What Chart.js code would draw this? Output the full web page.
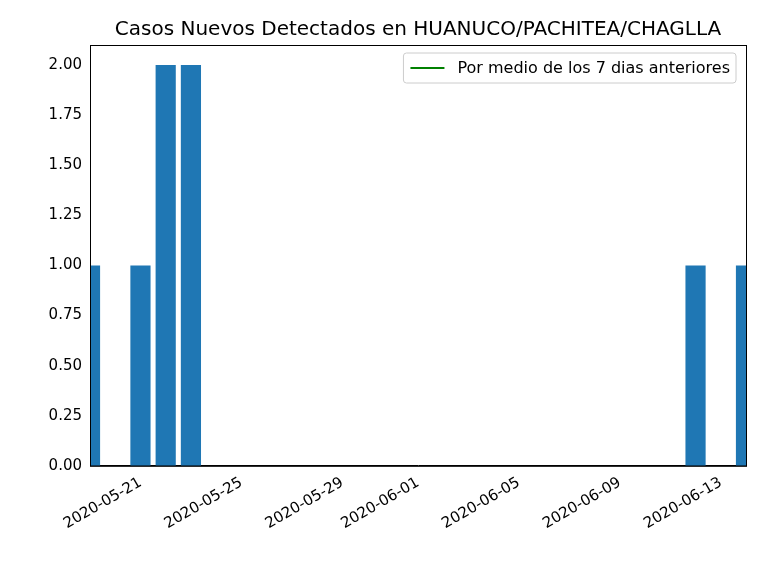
<!DOCTYPE html>
<html><head>
<script src="https://cdn.jsdelivr.net/npm/chart.js@4"></script>
<style>body{margin:0;background:#fff}#wrap{width:768px;height:576px}</style>
</head><body><div id="wrap"><canvas id="c"></canvas></div>
<script>
Chart.defaults.font.family = "'DejaVu Sans', sans-serif";
Chart.defaults.color = '#000';

const days = [];
for (let d = new Date(Date.UTC(2020, 4, 19)); d <= new Date(Date.UTC(2020, 5, 14)); d.setUTCDate(d.getUTCDate() + 1)) {
  days.push(d.toISOString().slice(0, 10));
}
const caseDates = ['2020-05-19', '2020-05-21', '2020-05-22', '2020-05-23', '2020-06-12', '2020-06-14'];
const caseValues = [1, 1, 2, 2, 1, 1];
const tickLabels = ['2020-05-21', '2020-05-25', '2020-05-29', '2020-06-01', '2020-06-05', '2020-06-09', '2020-06-13'];
const legendText = 'Por medio de los 7 dias anteriores';
const titleText = 'Casos Nuevos Detectados en HUANUCO/PACHITEA/CHAGLLA';

const barData = days.map(d => { const i = caseDates.indexOf(d); return i >= 0 ? caseValues[i] : 0; });

const legendBox = {
  id: 'legendBox',
  afterDraw(chart) {
    const { ctx, chartArea: a } = chart;
    ctx.save();
    ctx.font = "16px 'DejaVu Sans'";
    const w = ctx.measureText(legendText).width + 60, h = 30;
    const x = a.right - 10 - w, y = a.top + 8;
    ctx.fillStyle = 'rgba(255,255,255,0.8)';
    ctx.strokeStyle = '#ccc';
    ctx.lineWidth = 1;
    ctx.beginPath(); ctx.roundRect(x, y, w, h, 3); ctx.fill(); ctx.stroke();
    ctx.strokeStyle = 'green'; ctx.lineWidth = 2;
    ctx.beginPath(); ctx.moveTo(x + 7, y + h / 2); ctx.lineTo(x + 41, y + h / 2); ctx.stroke();
    ctx.fillStyle = '#000'; ctx.textBaseline = 'middle';
    ctx.fillText(legendText, x + 54, y + h / 2 + 1);
    ctx.restore();
  }
};

const frame = {
  id: 'frame',
  afterDraw(chart) {
    const { ctx, chartArea: a } = chart;
    ctx.save(); ctx.strokeStyle = '#000'; ctx.lineWidth = 1;
    ctx.strokeRect(a.left + 0.5, a.top + 0.5, a.right - a.left, a.bottom - a.top);
    ctx.font = "20px 'DejaVu Sans'"; ctx.fillStyle = '#000';
    ctx.textAlign = 'center'; ctx.textBaseline = 'alphabetic';
    ctx.fillText(titleText, (a.left + a.right) / 2, a.top - 10);
    ctx.restore();
  }
};

new Chart(document.getElementById('c'), {
  type: 'bar',
  data: {
    labels: days,
    datasets: [
      { type: 'bar', data: barData, backgroundColor: '#1f77b4', borderWidth: 0, barPercentage: 0.8, categoryPercentage: 1 },
      { type: 'line', label: legendText, data: days.map(() => null), borderColor: 'green' },
    ],
  },
  options: {
    responsive: true, maintainAspectRatio: false, animation: false,
    layout: { padding: { left: 10, right: 22, top: 45, bottom: 40 } },
    plugins: {
      legend: { display: false },
      tooltip: { enabled: false },
      title: { display: false },
    },
    scales: {
      x: {
        offset: false,
        grid: { display: false, drawTicks: true, tickLength: 5, color: '#000' },
        border: { color: '#000' },
        ticks: {
          autoSkip: false, maxRotation: 30, minRotation: 30, font: { size: 15 },
          callback: function (v) { const l = this.getLabelForValue(v); return tickLabels.includes(l) ? l : null; },
        },
      },
      y: {
        min: 0, max: 2.1,
        afterFit: s => { s.width = 80; },
        afterBuildTicks: s => { s.ticks = s.ticks.filter(t => t.value <= 2); },
        grid: { display: false, drawTicks: true, tickLength: 5 },
        border: { color: '#000' },
        ticks: { stepSize: 0.25, font: { size: 15 }, callback: v => v.toFixed(2) },
      },
    },
  },
  plugins: [legendBox, frame],
});
</script></body></html>
